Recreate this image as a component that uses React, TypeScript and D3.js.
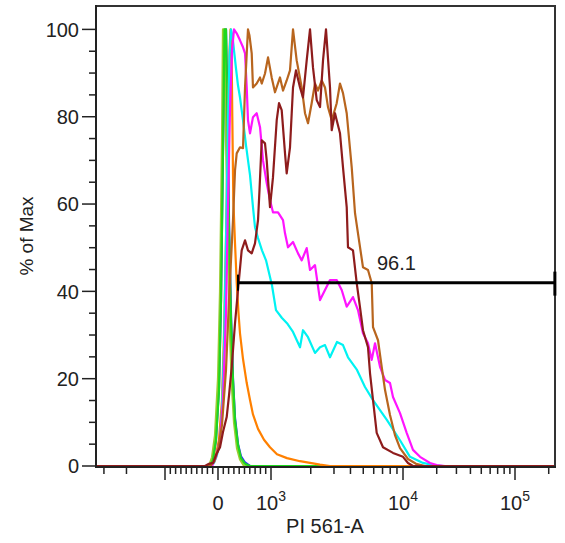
import React from "react";
import * as d3 from "d3";

const W = 565;
const H = 543;

// Each histogram: [PI 561-A intensity, % of Max]
const blueSeries: [number, number][] = [
  [-3500, 0], [-151, 0], [-94, 1.5], [-38, 6], [19, 18], [57, 38], [94, 72], [123, 97], [151, 100],
  [179, 82], [208, 56], [245, 35], [283, 20], [321, 11], [378, 5], [434, 2.2], [510, 0.8], [604, 0], [227000, 0],
];
const yellowGreenSeries: [number, number][] = [
  [-3500, 0], [-170, 0], [-113, 2], [-57, 7], [0, 20], [38, 40], [76, 75], [94, 100], [123, 100],
  [151, 75], [189, 50], [227, 30], [264, 18], [302, 10], [359, 4], [415, 1.5], [491, 0], [227000, 0],
];
const greenSeries: [number, number][] = [
  [-3500, 0], [-151, 0], [-94, 1.4], [-38, 5.9], [19, 17.4], [57, 38], [94, 72], [123, 100], [151, 100],
  [179, 79], [208, 54], [245, 33.4], [283, 19.7], [321, 10.5], [378, 4.8], [434, 1.8], [510, 0.5], [604, 0], [227000, 0],
];
const orangeSeries: [number, number][] = [
  [-3500, 0], [-132, 0], [-57, 1.4], [19, 6], [75, 15], [113, 30], [151, 52], [189, 78], [217, 95], [236, 100],
  [255, 97], [270, 80], [289, 61], [321, 51], [353, 42], [387, 35], [415, 30.4], [472, 24.5], [542, 19],
  [604, 15.1], [660, 11.8], [755, 8.5], [868, 6], [981, 4.3], [1110, 2.7], [1322, 1.8], [1659, 1.1],
  [2351, 0.3], [2799, 0], [227000, 0],
];
const cyanSeries: [number, number][] = [
  [-3500, 0], [-132, 0], [-75, 0.7], [-19, 2.5], [38, 6], [75, 12.8], [113, 26.5], [151, 51.7], [189, 79],
  [217, 94], [245, 100], [274, 98.4], [302, 95.2], [340, 91], [377, 87.2], [415, 84.4], [472, 79.2],
  [528, 73.5], [604, 66.6], [660, 59.3], [698, 54.7], [755, 52.2], [830, 49.4], [906, 47.1], [1017, 41.4],
  [1091, 35.7], [1211, 33.9], [1322, 32.7], [1468, 30.7], [1659, 27.2], [1747, 31.1], [1907, 29.5],
  [2154, 25.9], [2351, 27.2], [2565, 27.7], [2799, 24.9], [3162, 28.4], [3511, 27.7], [3830, 24.9],
  [4483, 22], [5154, 18.1], [5928, 15.1], [7564, 10.5], [9490, 5.9], [11550, 2.1], [15090, 0.7],
  [18530, 0.2], [22760, 0], [227000, 0],
];
const magentaSeries: [number, number][] = [
  [-3500, 0], [-113, 0], [-38, 2], [38, 6], [94, 15], [151, 35], [189, 60], [227, 82], [264, 95], [302, 100],
  [353, 99.1], [415, 97.5], [472, 95.9], [510, 94.5], [542, 86.7], [566, 79.2], [604, 76.2], [660, 79.9],
  [730, 80.8], [793, 77.6], [849, 70], [919, 64.8], [981, 60.9], [1035, 58.1], [1130, 58.1], [1233, 56.3],
  [1277, 53.3], [1345, 50.1], [1468, 51.3], [1602, 48.7], [1709, 47.1], [1864, 49.9], [1975, 44.9],
  [2154, 46], [2351, 38], [2565, 40.3], [2799, 42.6], [3146, 42.6], [3433, 40.3], [3746, 36.5],
  [4180, 38.7], [4560, 35.7], [4977, 30.4], [5430, 28.1], [5794, 24.3], [6138, 28.1], [6698, 22.7],
  [7310, 19.7], [7970, 19], [8400, 15.8], [9490, 12.1], [10790, 7.6], [12280, 3.7], [14190, 2.1],
  [17420, 0.7], [20000, 0.2], [23700, 0], [227000, 0],
];
const brownSeries: [number, number][] = [
  [-3500, 0], [-151, 0], [-75, 0.9], [0, 3.7], [75, 9.4], [151, 22], [208, 38], [245, 47.1], [283, 56.3],
  [321, 67.7], [353, 71.6], [415, 73], [472, 72.8], [510, 86.7], [542, 94.5], [566, 100], [594, 98.6],
  [636, 94.5], [660, 86.7], [730, 87.6], [793, 89], [825, 87.6], [887, 89.9], [944, 93.6], [1012, 89],
  [1072, 85.6], [1170, 89], [1233, 86], [1315, 88.3], [1393, 90.6], [1468, 100], [1565, 92.9], [1709, 86.7],
  [1810, 80.8], [1907, 78.5], [2033, 83.1], [2154, 87.6], [2270, 86], [2423, 88.3], [2565, 86.7],
  [2703, 82.2], [2884, 79.2], [3146, 83.1], [3332, 87.6], [3511, 85.4], [3746, 80.8], [4088, 68.4],
  [4330, 57.9], [4560, 53.3], [4977, 45.5], [5430, 44.9], [5794, 41.9], [5928, 31.8], [6467, 28.8],
  [6898, 22.7], [7310, 17.4], [7970, 11.7], [8690, 7.1], [9490, 4.1], [11080, 1.6], [13060, 0.5],
  [15720, 0], [227000, 0],
];
const darkRedSeries: [number, number][] = [
  [-3500, 0], [-245, 0], [-170, 0.5], [-94, 0.7], [-38, 2.5], [38, 4.3], [94, 7.8], [164, 11.2], [208, 16.2],
  [259, 22.7], [321, 32.7], [377, 40.3], [447, 49.4], [510, 51.7], [566, 49.4], [636, 48.7], [698, 51],
  [755, 56.3], [783, 63.2], [825, 74.6], [887, 73.9], [919, 70], [981, 59.3], [1035, 66.1], [1105, 79.2],
  [1150, 83.1], [1205, 81.5], [1277, 71.6], [1315, 67], [1393, 73], [1468, 86.7], [1546, 90.6],
  [1659, 86.7], [1747, 84.4], [1864, 92.9], [1975, 100], [2080, 91.3], [2220, 83.8], [2351, 82.2],
  [2478, 92.9], [2610, 100], [2799, 86.7], [2884, 76.9], [3054, 80.8], [3146, 79.2], [3332, 76.2],
  [3511, 68.4], [3746, 59.3], [3830, 50.1], [4180, 49.4], [4460, 41.9], [4722, 36.4], [4977, 31.1],
  [5430, 27.2], [5623, 21.3], [5928, 15.1], [6320, 7.6], [7056, 4.3], [8400, 3], [10000, 2.1],
  [11080, 0.7], [12280, 0], [227000, 0],
];

const seriesNames = ["blue", "yellowgreen", "green", "orange", "cyan", "magenta", "brown", "darkred"];
const seriesColors = ["#2b2bff", "#9acd32", "#1ed81e", "#ff8000", "#00f2f2", "#ff14ff", "#b8651e", "#8e1c1c"];
const seriesData = [blueSeries, yellowGreenSeries, greenSeries, orangeSeries, cyanSeries, magentaSeries, brownSeries, darkRedSeries];

const yMajorTicks = [0, 20, 40, 60, 80, 100];
const yMinorTicks = [5, 10, 15, 25, 30, 35, 45, 50, 55, 65, 70, 75, 85, 90, 95];
const xMajorTicks = [-1000, 0, 1000, 10000, 100000];
const xMinorTicks = [
  -3000, -2000, -900, -800, -700, -600, -500, -400, -300, -200, -100,
  100, 200, 300, 400, 500, 600, 700, 800, 900,
  2000, 3000, 4000, 5000, 6000, 7000, 8000, 9000,
  20000, 30000, 40000, 50000, 60000, 70000, 80000, 90000, 200000,
];
const xTickLabels: { value: number; base: string; exp: string }[] = [
  { value: 0, base: "0", exp: "" },
  { value: 1000, base: "10", exp: "3" },
  { value: 10000, base: "10", exp: "4" },
  { value: 100000, base: "10", exp: "5" },
];
const gateMin = 377;
const gateMax = 227000;
const gateLevel = 42;
const gateLabel = "96.1";
const xTitle = "PI 561-A";
const yTitle = "% of Max";

const FONT = "Arial, 'Liberation Sans', Helvetica, sans-serif";

// biexponential-like display: linear within ±1000, log beyond
function decades(v: number): number {
  const a = Math.abs(v);
  return a <= 1000 ? v / 1000 : Math.sign(v) * (1 + Math.log10(a / 1000));
}

export default function App() {
  const left = 96, right = 555, top = 6, bottom = 466;
  const xAnchor = d3.scaleLinear().domain([-2, -1, 0, 1, 2, 3]).range([37, 165, 218, 271, 403, 515]);
  const x = (v: number) => xAnchor(decades(v));
  const y = d3.scaleLinear().domain([0, 100]).range([bottom, 29.4]);
  const line = d3.line<[number, number]>().x((d) => x(d[0])).y((d) => y(d[1]));
  const axisColor = "#222";
  const textColor = "#222";

  return (
    <svg width={W} height={H} style={{ position: "absolute", left: 0, top: 0, background: "#fff" }}>
      <defs>
        <clipPath id="plot">
          <rect x={left} y={top} width={right - left} height={bottom - top + 1} />
        </clipPath>
      </defs>
      <g clipPath="url(#plot)">
        {seriesData.map((s, i) => (
          <path key={seriesNames[i]} d={line(s) || ""} fill="none" stroke={seriesColors[i]} strokeWidth={2.2} strokeLinejoin="round" />
        ))}
      </g>
      {/* frame */}
      <line x1={left} x2={right + 1} y1={top} y2={top} stroke="#333" strokeWidth={2} />
      <line x1={right} x2={right} y1={top} y2={bottom + 1} stroke="#333" strokeWidth={2} />
      <line x1={left} x2={left} y1={top - 1} y2={bottom + 2} stroke={axisColor} strokeWidth={2} />
      <line x1={left} x2={right + 1} y1={bottom + 1} y2={bottom + 1} stroke={axisColor} strokeWidth={2} />
      {/* y ticks */}
      {yMajorTicks.map((t) => (
        <g key={"ym" + t}>
          <line x1={left - 14} x2={left} y1={y(t)} y2={y(t)} stroke={axisColor} strokeWidth={1.5} />
          <text x={left - 17} y={y(t)} dy="0.36em" textAnchor="end" fontFamily={FONT} fontSize={20} fill={textColor}>
            {t}
          </text>
        </g>
      ))}
      {yMinorTicks.map((t) => (
        <line key={"yn" + t} x1={left - 7} x2={left} y1={y(t)} y2={y(t)} stroke={axisColor} strokeWidth={1.5} />
      ))}
      {/* x ticks */}
      {xMajorTicks.map((t) => (
        <line key={"xm" + t} x1={x(t)} x2={x(t)} y1={bottom + 1} y2={bottom + 14} stroke={axisColor} strokeWidth={1.5} />
      ))}
      {xMinorTicks.map((t) => (
        <line key={"xn" + t} x1={x(t)} x2={x(t)} y1={bottom + 1} y2={bottom + 8} stroke={axisColor} strokeWidth={1.5} />
      ))}
      {xTickLabels.map((l) => (
        <text key={"xl" + l.value} x={x(l.value)} y={510} textAnchor="middle" fontFamily={FONT} fontSize={20} fill={textColor}>
          {l.base}
          {l.exp ? (
            <tspan dy={-9} fontSize={14}>
              {l.exp}
            </tspan>
          ) : null}
        </text>
      ))}
      <text x={325} y={533} textAnchor="middle" fontFamily={FONT} fontSize={20} fill={textColor}>
        {xTitle}
      </text>
      <text transform={`translate(33, ${236}) rotate(-90)`} textAnchor="middle" fontFamily={FONT} fontSize={19} fill={textColor}>
        {yTitle}
      </text>
      {/* gate */}
      <g>
        <line x1={x(gateMin)} x2={x(gateMax)} y1={y(gateLevel)} y2={y(gateLevel)} stroke="#000" strokeWidth={3} />
        <line x1={x(gateMin)} x2={x(gateMin)} y1={y(gateLevel) - 8} y2={y(gateLevel) + 8} stroke="#000" strokeWidth={2} />
        <line x1={x(gateMax)} x2={x(gateMax)} y1={y(gateLevel) - 11} y2={y(gateLevel) + 13} stroke="#000" strokeWidth={3} />
        <text x={(x(gateMin) + x(gateMax)) / 2} y={y(gateLevel) - 13} textAnchor="middle" fontFamily={FONT} fontSize={20} fill={textColor}>
          {gateLabel}
        </text>
      </g>
    </svg>
  );
}
